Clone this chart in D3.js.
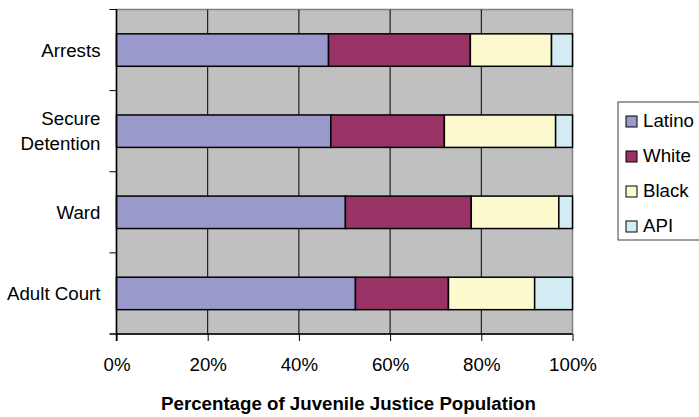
<!DOCTYPE html>
<html>
<head>
<meta charset="utf-8">
<script src="https://cdn.jsdelivr.net/npm/d3@7"></script>
<style>
  body { margin: 0; background: #fff; }
  svg text { font-family: "Liberation Sans", Arial, sans-serif; fill: #000; }
</style>
</head>
<body>
<div id="chart"></div>
<script>
const width = 699;
const height = 417;

// data (percent of each population)
const categories = ['Arrests', 'Secure Detention', 'Ward', 'Adult Court'];
const groups = ['Latino', 'White', 'Black', 'API'];
const latino = [46.5, 47.0, 50.2, 52.4];
const white = [31.1, 24.9, 27.6, 20.4];
const black = [17.8, 24.4, 19.2, 18.9];
const api = [4.6, 3.7, 3.0, 8.3];
const tickValues = [0, 20, 40, 60, 80, 100];
const colors = ['#9999CC', '#993366', '#FCF9CF', '#D3ECF4'];

const margin = { top: 9.5, right: 126, bottom: 83, left: 116.5 };
const plotW = 572.5 - margin.left;
const plotH = 334 - margin.top;

const svg = d3.select('#chart').append('svg')
    .attr('width', width)
    .attr('height', height);

const g = svg.append('g')
    .attr('transform', `translate(${margin.left},${margin.top})`);

const x = d3.scaleLinear().domain([0, 100]).range([0, plotW]);
const y = d3.scaleBand().domain(categories).range([0, plotH]).paddingInner(0.6).paddingOuter(0.3);

// build stacked table
const rows = categories.map((c, i) => ({
    cat: c, Latino: latino[i], White: white[i], Black: black[i], API: api[i]
}));
const stacked = d3.stack().keys(groups)(rows);

// plot background
g.append('rect')
    .attr('width', plotW)
    .attr('height', plotH)
    .attr('fill', '#C0C0C0')
    .attr('stroke', '#808080')
    .attr('stroke-width', 1.5);

// vertical gridlines
g.selectAll('.grid')
    .data(tickValues.slice(1, -1))
    .enter()
    .append('line')
    .attr('x1', d => x(d)).attr('x2', d => x(d))
    .attr('y1', 0).attr('y2', plotH)
    .attr('stroke', '#000')
    .attr('stroke-width', 1);

// bars
g.selectAll('.series')
    .data(stacked)
    .enter()
    .append('g')
    .attr('fill', (d, i) => colors[i])
    .selectAll('rect')
    .data(d => d)
    .enter()
    .append('rect')
    .attr('x', d => x(d[0]))
    .attr('width', d => x(d[1]) - x(d[0]))
    .attr('y', d => y(d.data.cat))
    .attr('height', y.bandwidth())
    .attr('stroke', '#000')
    .attr('stroke-width', 1.5);

// x axis
const xAxis = g.append('g')
    .attr('transform', `translate(0,${plotH})`)
    .call(d3.axisBottom(x).tickValues(tickValues).tickFormat(d => d + '%').tickSizeOuter(0).tickSize(7).tickPadding(17));
xAxis.select('.domain').attr('stroke', '#000').attr('stroke-width', 1.5).attr('d', `M-7,0H${plotW}`);
xAxis.selectAll('text').style('font-size', '18.7px');

// y axis line and ticks at band boundaries
const step = plotH / categories.length;
g.append('line')
    .attr('x1', 0).attr('x2', 0).attr('y1', 0).attr('y2', plotH + 7)
    .attr('stroke', '#000').attr('stroke-width', 1.5);
g.selectAll('.ytick')
    .data(d3.range(categories.length))
    .enter()
    .append('line')
    .attr('x1', -7).attr('x2', 0)
    .attr('y1', d => d * step).attr('y2', d => d * step)
    .attr('stroke', '#000').attr('stroke-width', 1);

// category labels
const labelLines = {
    'Arrests': ['Arrests'],
    'Secure Detention': ['Secure', 'Detention'],
    'Ward': ['Ward'],
    'Adult Court': ['Adult Court']
};
categories.forEach(c => {
    const lines = labelLines[c];
    const cy = y(c) + y.bandwidth() / 2;
    const lh = 25;
    const t = g.append('text')
        .attr('text-anchor', 'end')
        .style('font-size', '18.7px');
    lines.forEach((l, i) => {
        t.append('tspan')
            .attr('x', -16)
            .attr('y', cy + 6.5 + (i - (lines.length - 1) / 2) * lh)
            .text(l);
    });
});

// x axis title
svg.append('text')
    .attr('x', margin.left + plotW / 2 + 4)
    .attr('y', 410)
    .attr('text-anchor', 'middle')
    .style('font-size', '18.7px')
    .style('font-weight', 'bold')
    .text('Percentage of Juvenile Justice Population');

// legend
const legend = svg.append('g').attr('transform', 'translate(618,102)');
legend.append('rect')
    .attr('width', 90).attr('height', 138)
    .attr('fill', '#fff')
    .attr('stroke', '#404040').attr('stroke-width', 1);
groups.forEach((name, i) => {
    const ly = 25 + i * 35;
    legend.append('rect')
        .attr('x', 8).attr('y', ly - 11)
        .attr('width', 11).attr('height', 11)
        .attr('fill', colors[i])
        .attr('stroke', '#000').attr('stroke-width', 1);
    legend.append('text')
        .attr('x', 25).attr('y', ly)
        .style('font-size', '18.7px')
        .text(name);
});
</script>
</body>
</html>
